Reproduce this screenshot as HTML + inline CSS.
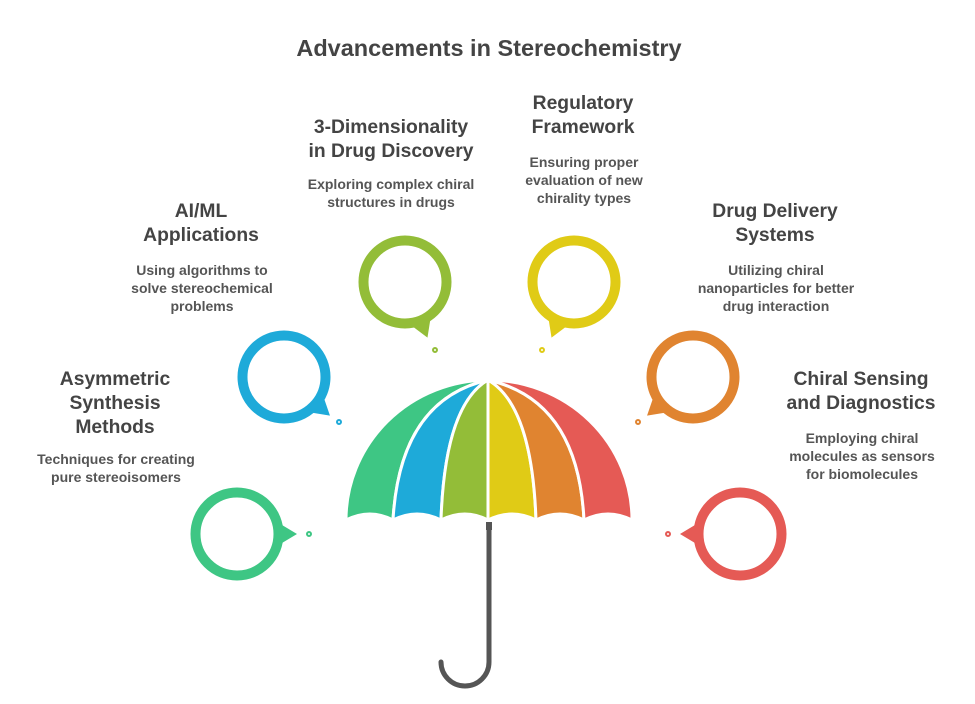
<!DOCTYPE html>
<html><head><meta charset="utf-8"><style>
body{margin:0;background:#fff;}
svg{display:block;font-family:"Liberation Sans",Arial,sans-serif;}
.h{font-weight:bold;font-size:19.3px;fill:#444;text-anchor:middle}
.d{font-weight:bold;font-size:14px;fill:#555;text-anchor:middle}
</style></head><body>
<svg width="975" height="704" viewBox="0 0 975 704">
<text x="489" y="56" text-anchor="middle" font-weight="bold" font-size="23.5" fill="#444">Advancements in Stereochemistry</text>

<g stroke="#fff" stroke-width="3" stroke-linejoin="round">
<path fill="#3ec684" d="M488,380 A143,140 0 0 0 346,520 Q370,508 393,520 Q400,400 488,380Z"/>
<path fill="#1eaad9" d="M488,380 Q400,400 393,520 Q417,508 441,520 Q445,405 488,380Z"/>
<path fill="#93bd38" d="M488,380 Q445,405 441,520 Q465,508 488,520 Z"/>
<path fill="#e0cb16" d="M488,380 L488,520 Q512,508 536,520 Q532,405 488,380Z"/>
<path fill="#e08430" d="M488,380 Q532,405 536,520 Q560,508 584,520 Q578,400 488,380Z"/>
<path fill="#e55a55" d="M488,380 Q578,400 584,520 Q608,508 632,520 A144,140 0 0 0 488,380Z"/>
</g>
<rect x="486" y="522" width="6" height="8" fill="#555"/>
<path d="M489,525 L489,662 A24,24 0 0 1 441,662" fill="none" stroke="#555" stroke-width="5" stroke-linecap="round"/>

<g stroke-width="10" fill="none">
<g transform="translate(237,534)"><circle r="41.5" stroke="#3ec684"/><path d="M40,-12 L60,0 L40,12Z" fill="#3ec684" stroke="none"/></g>
<g transform="translate(284,377)"><circle r="41.5" stroke="#1eaad9"/><path d="M40,-12 L60,0 L40,12Z" fill="#1eaad9" transform="rotate(40)" stroke="none"/></g>
<g transform="translate(405,282)"><circle r="41.5" stroke="#93bd38"/><path d="M40,-12 L60,0 L40,12Z" fill="#93bd38" transform="rotate(68)" stroke="none"/></g>
<g transform="translate(574,282)"><circle r="41.5" stroke="#e0cb16"/><path d="M40,-12 L60,0 L40,12Z" fill="#e0cb16" transform="rotate(112)" stroke="none"/></g>
<g transform="translate(693,377)"><circle r="41.5" stroke="#e08430"/><path d="M40,-12 L60,0 L40,12Z" fill="#e08430" transform="rotate(140)" stroke="none"/></g>
<g transform="translate(740,534)"><circle r="41.5" stroke="#e55a55"/><path d="M40,-12 L60,0 L40,12Z" fill="#e55a55" transform="rotate(180)" stroke="none"/></g>
</g>
<g stroke-width="2" fill="none">
<circle cx="309" cy="534" r="2" stroke="#3ec684"/>
<circle cx="339" cy="422" r="2" stroke="#1eaad9"/>
<circle cx="435" cy="350" r="2" stroke="#93bd38"/>
<circle cx="542" cy="350" r="2" stroke="#e0cb16"/>
<circle cx="638" cy="422" r="2" stroke="#e08430"/>
<circle cx="668" cy="534" r="2" stroke="#e55a55"/>
</g>

<text class="h" x="115" y="385">Asymmetric</text>
<text class="h" x="115" y="409">Synthesis</text>
<text class="h" x="115" y="433">Methods</text>
<text class="d" x="116" y="464">Techniques for creating</text>
<text class="d" x="116" y="482">pure stereoisomers</text>

<text class="h" x="201" y="217">AI/ML</text>
<text class="h" x="201" y="241">Applications</text>
<text class="d" x="202" y="275">Using algorithms to</text>
<text class="d" x="202" y="293">solve stereochemical</text>
<text class="d" x="202" y="311">problems</text>

<text class="h" x="391" y="133">3-Dimensionality</text>
<text class="h" x="391" y="157">in Drug Discovery</text>
<text class="d" x="391" y="189">Exploring complex chiral</text>
<text class="d" x="391" y="207">structures in drugs</text>

<text class="h" x="583" y="109">Regulatory</text>
<text class="h" x="583" y="133">Framework</text>
<text class="d" x="584" y="167">Ensuring proper</text>
<text class="d" x="584" y="185">evaluation of new</text>
<text class="d" x="584" y="203">chirality types</text>

<text class="h" x="775" y="217">Drug Delivery</text>
<text class="h" x="775" y="241">Systems</text>
<text class="d" x="776" y="275">Utilizing chiral</text>
<text class="d" x="776" y="293">nanoparticles for better</text>
<text class="d" x="776" y="311">drug interaction</text>

<text class="h" x="861" y="385">Chiral Sensing</text>
<text class="h" x="861" y="409">and Diagnostics</text>
<text class="d" x="862" y="443">Employing chiral</text>
<text class="d" x="862" y="461">molecules as sensors</text>
<text class="d" x="862" y="479">for biomolecules</text>
</svg>
</body></html>
